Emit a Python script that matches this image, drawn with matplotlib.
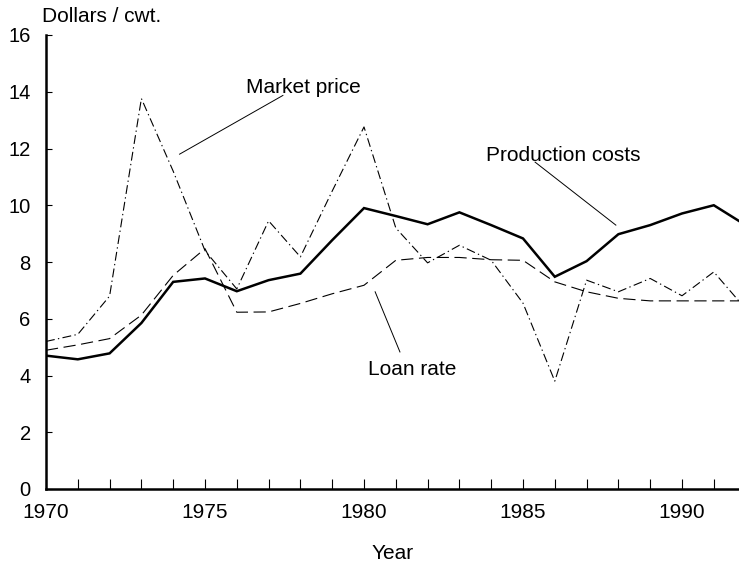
import matplotlib
matplotlib.use("Agg")
import matplotlib.pyplot as plt
from matplotlib.ticker import MultipleLocator

plt.rcParams['font.family'] = ['Liberation Sans', 'DejaVu Sans']

# data (dollars per cwt.)
years = list(range(1970, 1993))
production_costs = [4.7, 4.57, 4.78, 5.85, 7.3, 7.42, 6.97, 7.36, 7.59, 8.77, 9.9,
                    9.62, 9.33, 9.75, 9.3, 8.83, 7.48, 8.03, 8.98, 9.3, 9.71, 10.0, 9.3]
market_price = [5.2, 5.45, 6.8, 13.76, 11.2, 8.4, 7.05, 9.45, 8.18, 10.5, 12.76,
                9.2, 7.97, 8.59, 8.06, 6.55, 3.8, 7.36, 6.95, 7.42, 6.81, 7.65, 6.35]
loan_rate = [4.89, 5.08, 5.3, 6.13, 7.53, 8.47, 6.23, 6.24, 6.54, 6.88, 7.18,
             8.06, 8.16, 8.16, 8.08, 8.06, 7.3, 6.95, 6.72, 6.63, 6.63, 6.63, 6.63]

# callout labels: text, text position, leader line (x pair, y pair)
labels = ['Market price', 'Production costs', 'Loan rate']
label_pos = [(1978.1, 14.15), (1986.25, 11.75), (1981.5, 4.2)]
leader_x = [(1977.45, 1974.2), (1985.38, 1987.92), (1980.35, 1981.13)]
leader_y = [(13.87, 11.8), (11.52, 9.3), (6.95, 4.83)]

fig = plt.figure(figsize=(7.39, 5.62), dpi=100)
ax = fig.add_axes([46/739, 73/562, 693/739, 454/562])

ax.plot(years, production_costs, color='black', lw=1.8, solid_joinstyle='miter')
ax.plot(years, market_price, color='black', lw=0.8, dashes=(8, 3, 1.2, 3))
ax.plot(years, loan_rate, color='black', lw=0.8, dashes=(11, 5))

for txt, pos, lx, ly in zip(labels, label_pos, leader_x, leader_y):
    ax.text(pos[0], pos[1], txt, fontsize=15, ha='center', va='center')
    ax.plot(lx, ly, color='black', lw=0.7)

ax.set_xlim(1970, 1970 + 693/31.8)
ax.set_ylim(0, 16)

for s in ['top', 'right']:
    ax.spines[s].set_visible(False)
for s in ['left', 'bottom']:
    ax.spines[s].set_linewidth(1.8)

ax.xaxis.set_major_locator(MultipleLocator(5))
ax.xaxis.set_minor_locator(MultipleLocator(1))
ax.yaxis.set_major_locator(MultipleLocator(2))
ax.tick_params(axis='x', which='both', direction='in', length=7, width=0.8,
               labelsize=15, pad=10)
ax.tick_params(axis='y', which='major', direction='in', length=4, width=0.8,
               labelsize=14.5, pad=11)

ax.set_xlabel('Year', fontsize=15, labelpad=16)
fig.text(42/739, 1 - 17/562, 'Dollars / cwt.', fontsize=15, ha='left', va='center')

fig.savefig('out.png', dpi=100)
